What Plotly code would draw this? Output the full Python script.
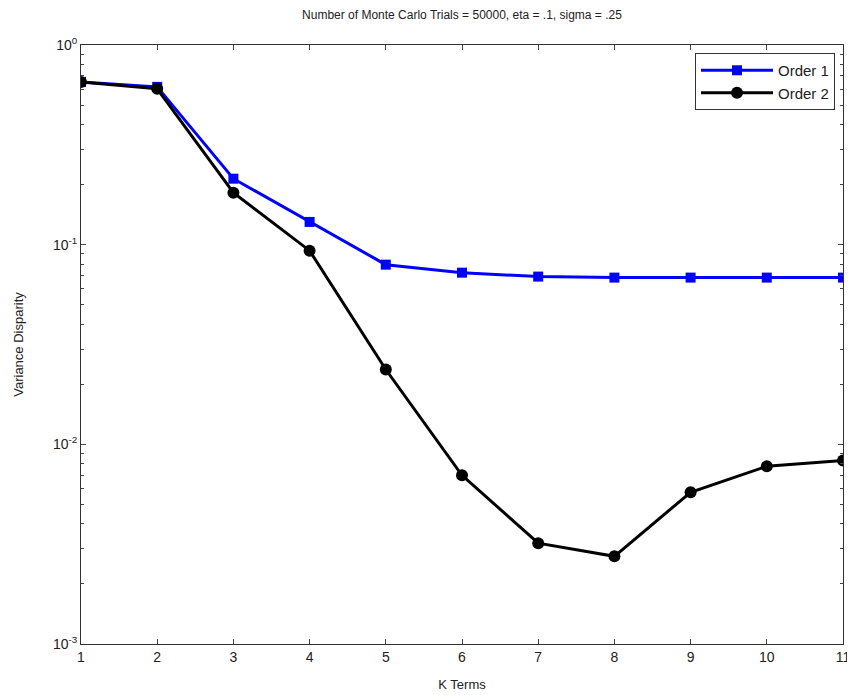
import plotly.graph_objects as go

k_terms = [1, 2, 3, 4, 5, 6, 7, 8, 9, 10, 11]
order1 = [0.653, 0.617, 0.214, 0.130, 0.0794, 0.0724, 0.0692, 0.0684, 0.0684, 0.0684, 0.0684]
order2 = [0.653, 0.603, 0.182, 0.0933, 0.0237, 0.0070, 0.0032, 0.00275, 0.00575, 0.00776, 0.0083]
y_tickvals = [1, 0.1, 0.01, 0.001]
y_ticktext = ["10<sup>0</sup>", "10<sup>-1</sup>", "10<sup>-2</sup>", "10<sup>-3</sup>"]
title = "Number of Monte Carlo Trials = 50000, eta = .1, sigma = .25"

minor_vals = [m * d for d in (0.001, 0.01, 0.1) for m in range(2, 10)]

fig = go.Figure()
fig.add_trace(go.Scatter(x=k_terms, y=order1, mode="lines+markers", name="Order 1",
                         line=dict(color="#0000ff", width=3),
                         marker=dict(symbol="square", size=10, color="#0000ff")))
fig.add_trace(go.Scatter(x=k_terms, y=order2, mode="lines+markers", name="Order 2",
                         line=dict(color="#000000", width=3),
                         marker=dict(symbol="circle", size=12, color="#000000")))

fig.update_layout(
    width=847, height=687,
    margin=dict(l=73, r=12, t=37, b=51),
    paper_bgcolor="white", plot_bgcolor="white",
    font=dict(family="Liberation Sans, Arial, sans-serif", size=14, color="#222"),
    title=dict(text=title, x=0.536, xanchor="center", y=0.996, yanchor="top",
               font=dict(size=12, color="#222")),
    showlegend=True,
    legend=dict(x=0.9895, y=0.9866, xanchor="right", yanchor="top",
                bordercolor="#333", borderwidth=1, bgcolor="white",
                font=dict(size=15), tracegroupgap=0, itemwidth=72),
)
fig.update_xaxes(range=[1, 11], tickvals=k_terms, ticks="inside", ticklen=5,
                 showline=True, linecolor="#333", linewidth=1, mirror="ticks",
                 showgrid=False, zeroline=False, automargin=False,
                 title=dict(text="K Terms", font=dict(size=13), standoff=16))
fig.update_yaxes(type="log", range=[-3, 0], tickvals=y_tickvals, ticktext=y_ticktext,
                 ticks="inside", ticklen=5,
                 minor=dict(tickvals=minor_vals, ticks="inside", ticklen=3, showgrid=False),
                 showline=True, linecolor="#333", linewidth=1, mirror="ticks",
                 showgrid=False, zeroline=False, automargin=False,
                 title=dict(text="Variance Disparity", font=dict(size=13), standoff=26))

fig.write_html("out.html")
